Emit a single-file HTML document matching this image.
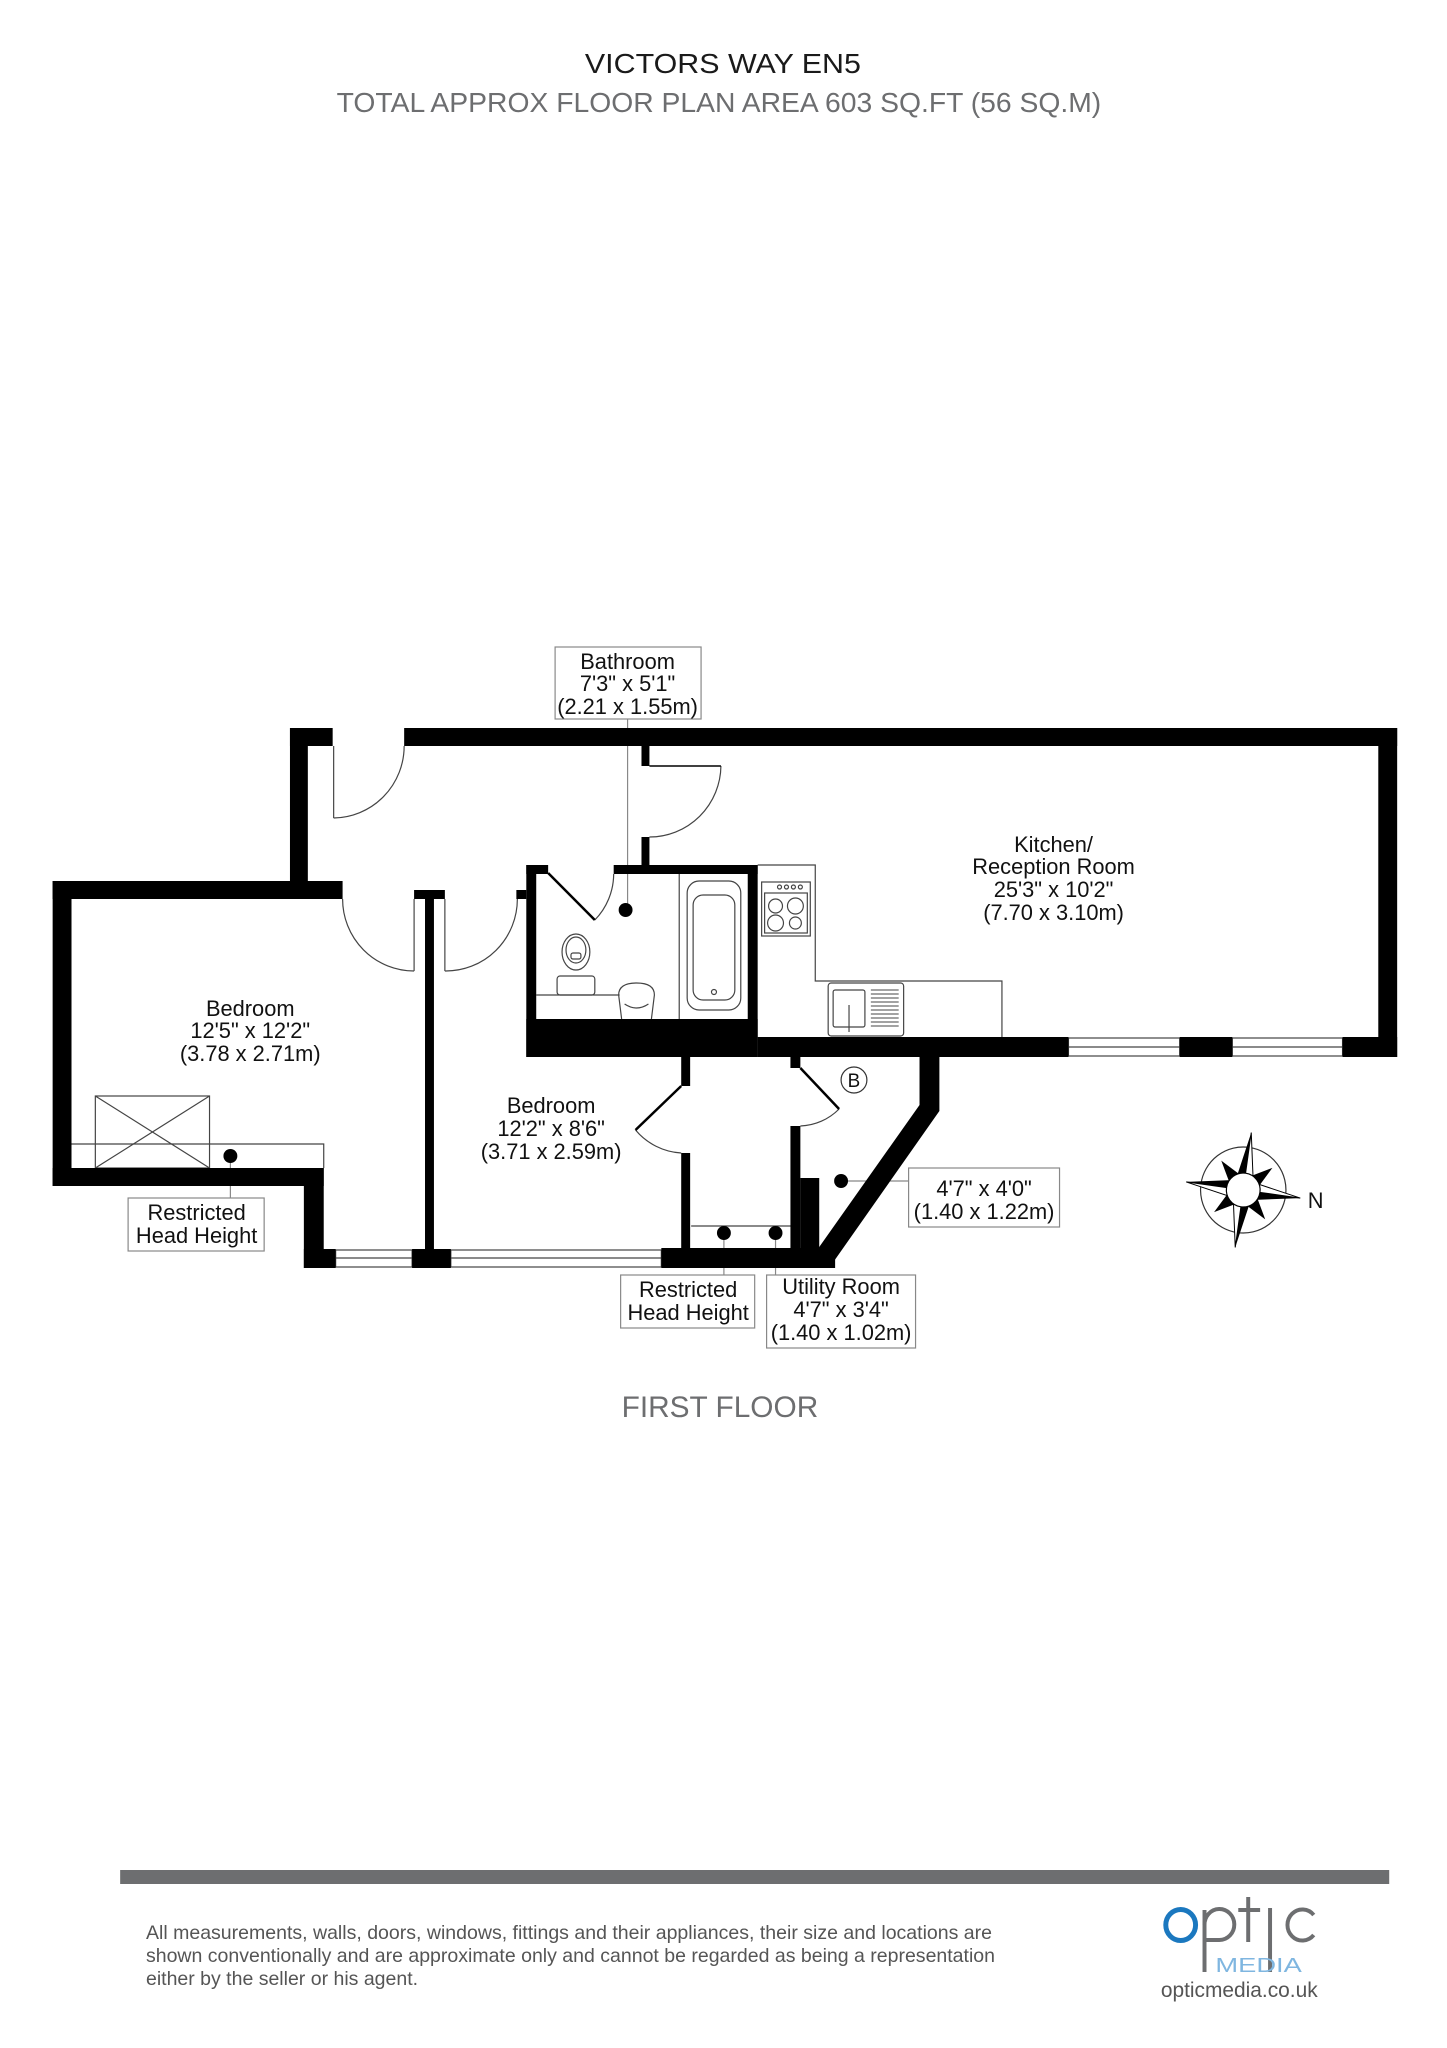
<!DOCTYPE html>
<html><head><meta charset="utf-8"><style>
html,body{margin:0;padding:0;background:#fff}
svg{display:block}
text{font-family:"Liberation Sans",Arial,sans-serif}
</style></head><body>
<svg width="1447" height="2048" viewBox="0 0 1447 2048" xmlns="http://www.w3.org/2000/svg">
<rect width="1447" height="2048" fill="#fff"/>
<g transform="matrix(0.993 0 0 1 1 0)">
<text x="727" y="73" font-size="28" fill="#1a1a1a" text-anchor="middle" textLength="278" lengthAdjust="spacingAndGlyphs">VICTORS WAY EN5</text>
<text x="723" y="112" font-size="28" fill="#6d6e70" text-anchor="middle" textLength="770" lengthAdjust="spacingAndGlyphs">TOTAL APPROX FLOOR PLAN AREA 603 SQ.FT (56 SQ.M)</text>

<g fill="none" stroke="#444" stroke-width="1.2">
 <line x1="335" y1="746" x2="335" y2="818"/><path d="M335 818 A72 72 0 0 0 406 746"/>
 <line x1="416" y1="899" x2="416" y2="971"/><path d="M344 899 A72 72 0 0 0 416 971"/>
 <line x1="447" y1="899" x2="447" y2="971"/><path d="M447 971 A72 72 0 0 0 520 899"/>
 <path d="M598 920 A66 66 0 0 0 617 874"/>
 <path d="M725 766 A72 72 0 0 1 653 837"/>
 <path d="M639 1130 A65 65 0 0 0 685 1153"/>
 <path d="M844 1109 A58 58 0 0 1 805 1126"/>
 <line x1="683" y1="874" x2="683" y2="1019"/>
 <line x1="539" y1="995" x2="623" y2="995"/>
 <rect x="691" y="881" width="54" height="129" rx="12"/>
 <rect x="697" y="895" width="42" height="105" rx="10"/>
 <circle cx="718" cy="992" r="2.5"/>
 <ellipse cx="579" cy="952" rx="14" ry="18"/><ellipse cx="579" cy="950" rx="10" ry="13"/>
 <rect x="574" y="953" width="10" height="6" rx="2"/>
 <rect x="560" y="976" width="38" height="19" rx="3"/>
 <path d="M625 1019 L622 995 Q622 983 640 983 Q658 983 658 995 L655 1019"/>
 <path d="M628 1004 Q640 1012 652 1004"/>
 <path d="M762 865 L820 865 L820 981 L1008 981 L1008 1037"/>
 <rect x="766" y="882" width="49" height="54"/>
 <rect x="769" y="893" width="43" height="40"/>
 <circle cx="780" cy="906" r="7"/><circle cx="800" cy="906" r="8"/><circle cx="780" cy="923" r="8"/><circle cx="800" cy="923" r="6"/>
 <circle cx="784" cy="887" r="2"/><circle cx="791" cy="887" r="2"/><circle cx="798" cy="887" r="2"/><circle cx="805" cy="887" r="2"/>
 <rect x="833" y="983" width="76" height="53" rx="3"/>
 <rect x="838" y="990" width="32" height="37" rx="2"/>
 <line x1="854" y1="1005" x2="854" y2="1032"/>
 <g stroke-width="1">
 <line x1="876" y1="990" x2="904" y2="990"/><line x1="876" y1="994" x2="904" y2="994"/><line x1="876" y1="998" x2="904" y2="998"/><line x1="876" y1="1002" x2="904" y2="1002"/><line x1="876" y1="1006" x2="904" y2="1006"/><line x1="876" y1="1010" x2="904" y2="1010"/><line x1="876" y1="1014" x2="904" y2="1014"/><line x1="876" y1="1018" x2="904" y2="1018"/><line x1="876" y1="1022" x2="904" y2="1022"/><line x1="876" y1="1026" x2="904" y2="1026"/></g>
 <rect x="95" y="1096" width="115" height="72"/>
 <line x1="95" y1="1096" x2="210" y2="1168"/><line x1="210" y1="1096" x2="95" y2="1168"/>
 <polyline points="71,1144 325,1144 325,1168"/>
 <line x1="695" y1="1226" x2="797" y2="1226"/>
 <rect x="337" y="1250" width="77" height="17"/><line x1="337" y1="1258" x2="414" y2="1258"/>
 <rect x="453" y="1250" width="212" height="17"/><line x1="453" y1="1258" x2="665" y2="1258"/>
 <rect x="1075" y="1038" width="112" height="18"/><line x1="1075" y1="1047" x2="1187" y2="1047"/>
 <rect x="1240" y="1038" width="111" height="18"/><line x1="1240" y1="1047" x2="1351" y2="1047"/>
</g>
<g stroke="#888" stroke-width="1.2" fill="none">
 <line x1="631" y1="719" x2="631" y2="910"/>
 <line x1="231" y1="1156" x2="231" y2="1198"/>
 <line x1="728" y1="1233" x2="728" y2="1275"/>
 <line x1="780" y1="1233" x2="780" y2="1275"/>
 <line x1="846" y1="1181" x2="914" y2="1181"/>
</g>

<g fill="#000">
 <rect x="291" y="728" width="43" height="18"/>
 <rect x="406" y="728" width="1000" height="18"/>
 <rect x="291" y="728" width="18" height="171"/>
 <rect x="52" y="881" width="292" height="18"/>
 <rect x="52" y="881" width="19" height="305"/>
 <rect x="52" y="1168" width="273" height="18"/>
 <rect x="305" y="1168" width="20" height="100"/>
 <rect x="305" y="1249" width="32" height="19"/>
 <rect x="414" y="1249" width="39" height="19"/>
 <rect x="665" y="1248" width="175" height="20"/>
 <rect x="427" y="899" width="9" height="369"/>
 <rect x="416" y="890" width="31" height="9"/>
 <rect x="519" y="890" width="10" height="9"/>
 <rect x="529" y="865" width="10" height="192"/>
 <rect x="529" y="865" width="22" height="9"/>
 <rect x="617" y="865" width="145" height="9"/>
 <rect x="752" y="865" width="10" height="192"/>
 <rect x="529" y="1019" width="233" height="38"/>
 <rect x="645" y="746" width="8" height="20"/>
 <rect x="645" y="837" width="8" height="37"/>
 <rect x="762" y="1037" width="313" height="20"/>
 <rect x="1187" y="1037" width="53" height="20"/>
 <rect x="1351" y="1037" width="55" height="20"/>
 <rect x="1387" y="728" width="19" height="329"/>
 <rect x="685" y="1057" width="9" height="29"/>
 <rect x="685" y="1153" width="9" height="115"/>
 <rect x="795" y="1057" width="10" height="11"/>
 <rect x="795" y="1126" width="10" height="142"/>
 <rect x="805" y="1178" width="19" height="90"/>
 <polygon points="925,1057 945,1057 945,1111 834,1268 810,1268 824,1247 925,1105"/>
 <line x1="551" y1="873" x2="598" y2="920" stroke="#000" stroke-width="2.5"/>
 <line x1="653" y1="766" x2="725" y2="766" stroke="#000" stroke-width="1.5"/>
 <line x1="685" y1="1086" x2="639" y2="1130" stroke="#000" stroke-width="2.5"/>
 <line x1="805" y1="1068" x2="844" y2="1109" stroke="#000" stroke-width="2.5"/>
 <circle cx="629" cy="910" r="7"/>
 <circle cx="231" cy="1156" r="7"/>
 <circle cx="728" cy="1233" r="7"/>
 <circle cx="780" cy="1233" r="7"/>
 <circle cx="846" cy="1181" r="7"/>
</g>
<circle cx="859" cy="1080" r="13" fill="#fff" stroke="#333" stroke-width="1.2"/>
<text x="859" y="1087" font-size="19" text-anchor="middle" fill="#111">B</text>

<g font-size="22" fill="#111" text-anchor="middle">
 <text x="1060" y="852">Kitchen/</text>
 <text x="1060" y="874">Reception Room</text>
 <text x="1060" y="897">25'3" x 10'2"</text>
 <text x="1060" y="920">(7.70 x 3.10m)</text>
 <text x="251" y="1016">Bedroom</text>
 <text x="251" y="1038">12'5" x 12'2"</text>
 <text x="251" y="1061">(3.78 x 2.71m)</text>
 <text x="554" y="1113">Bedroom</text>
 <text x="554" y="1136">12'2" x 8'6"</text>
 <text x="554" y="1159">(3.71 x 2.59m)</text>
</g>
<g fill="#fff" stroke="#888" stroke-width="1.2">
 <rect x="558" y="647" width="147" height="72"/>
 <rect x="128" y="1198" width="137" height="53"/>
 <rect x="624" y="1275" width="135" height="53"/>
 <rect x="771" y="1275" width="150" height="73"/>
 <rect x="914" y="1168" width="152" height="59"/>
</g>
<g font-size="22" fill="#111" text-anchor="middle">
 <text x="631" y="669">Bathroom</text>
 <text x="631" y="691">7'3" x 5'1"</text>
 <text x="631" y="714">(2.21 x 1.55m)</text>
 <text x="197" y="1220">Restricted</text>
 <text x="197" y="1243">Head Height</text>
 <text x="692" y="1297">Restricted</text>
 <text x="692" y="1320">Head Height</text>
 <text x="846" y="1294">Utility Room</text>
 <text x="846" y="1317">4'7" x 3'4"</text>
 <text x="846" y="1340">(1.40 x 1.02m)</text>
 <text x="990" y="1196">4'7" x 4'0"</text>
 <text x="990" y="1219">(1.40 x 1.22m)</text>
</g>

<g transform="translate(1251,1190) rotate(8)">
 <circle r="43" fill="none" stroke="#333" stroke-width="1.2"/>
 <polygon points="0,-58 -8,-14 0,-14" fill="#000"/><polygon points="0,-58 8,-14 0,-14" fill="#fff" stroke="#000" stroke-width="1"/>
 <polygon points="0,58 8,14 0,14" fill="#000"/><polygon points="0,58 -8,14 0,14" fill="#fff" stroke="#000" stroke-width="1"/>
 <polygon points="-58,0 -14,8 -14,0" fill="#fff" stroke="#000" stroke-width="1"/><polygon points="-58,0 -14,-8 -14,0" fill="#000"/>
 <polygon points="58,0 14,-8 14,0" fill="#fff" stroke="#000" stroke-width="1"/><polygon points="58,0 14,8 14,0" fill="#000"/>
 <polygon points="-26,-26 -4,-14 -14,-4" fill="#000"/>
 <polygon points="26,-26 14,-4 4,-14" fill="#000"/>
 <polygon points="26,26 4,14 14,4" fill="#000"/>
 <polygon points="-26,26 -14,4 -4,14" fill="#000"/>
 <circle r="17" fill="#fff" stroke="#000" stroke-width="1.2"/>
</g>
<text x="1316" y="1208" font-size="22" fill="#111">N</text>

<text x="724" y="1417" font-size="30" fill="#6d6e70" text-anchor="middle" textLength="198" lengthAdjust="spacingAndGlyphs">FIRST FLOOR</text>

<rect x="120" y="1870" width="1278" height="14" fill="#6d6e70"/>
<g font-size="19" fill="#555">
 <text x="146" y="1939" textLength="852" lengthAdjust="spacingAndGlyphs">All measurements, walls, doors, windows, fittings and their appliances, their size and locations are</text>
 <text x="146" y="1962" textLength="855" lengthAdjust="spacingAndGlyphs">shown conventionally and are approximate only and cannot be regarded as being a representation</text>
 <text x="146" y="1985" textLength="274" lengthAdjust="spacingAndGlyphs">either by the seller or his agent.</text>
</g>
<g transform="translate(8,0)">
<ellipse cx="1180" cy="1925" rx="15" ry="15.5" fill="none" stroke="#1b78bf" stroke-width="5"/>
<g fill="none" stroke="#6d6e70" stroke-width="4">
 <line x1="1204" y1="1910" x2="1204" y2="1972"/>
 <path d="M1204 1925 A15 15.5 0 1 1 1219 1940 L1204 1940"/>
 <line x1="1248" y1="1897" x2="1248" y2="1942"/>
 <line x1="1238" y1="1910" x2="1260" y2="1910"/>
 <line x1="1270" y1="1908" x2="1270" y2="1972"/>
 <path d="M1314 1915 A15 15.5 0 1 0 1314 1935"/>
</g>
<text x="1215" y="1972" font-size="20" fill="#7fb6e0" textLength="87" lengthAdjust="spacingAndGlyphs">MEDIA</text>
<text x="1239" y="1997" font-size="21" fill="#555" text-anchor="middle" textLength="158" lengthAdjust="spacingAndGlyphs">opticmedia.co.uk</text>
</g>
</g>
</svg>
</body></html>
